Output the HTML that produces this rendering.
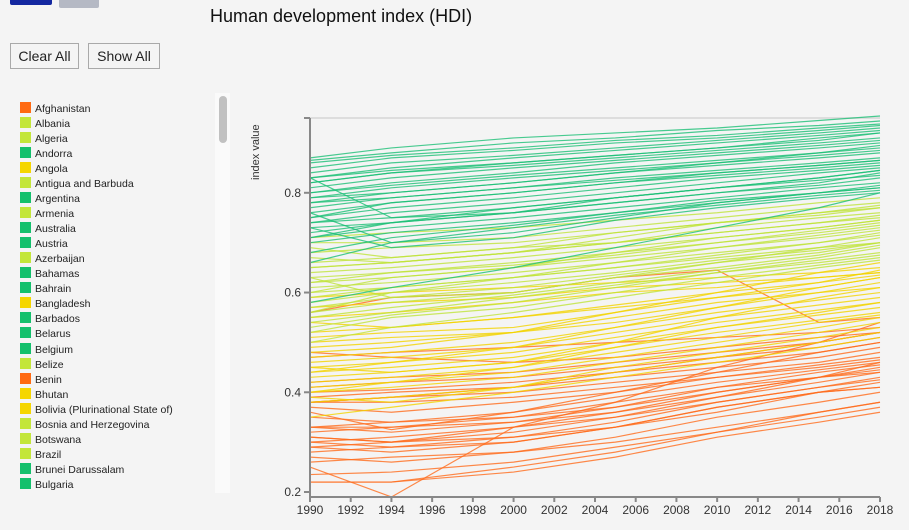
<!DOCTYPE html>
<html><head><meta charset="utf-8">
<style>
body{margin:0;width:909px;height:530px;background:#f4f4f4;font-family:"Liberation Sans",sans-serif;overflow:hidden;position:relative}
.btn{position:absolute;top:43px;height:24px;border:1px solid #a9a9a9;background:#f4f4f4;font-size:14px;line-height:24px;text-align:center;color:#222}
#legend{position:absolute;left:20px;top:102px}
.li{height:15.04px;font-size:10.5px;line-height:15px;color:#222;white-space:nowrap}
.sw{display:inline-block;width:11px;height:11px;vertical-align:-1px;margin-right:4px}
</style></head><body>
<div style="position:absolute;left:10px;top:0;width:42px;height:5px;background:#1428a0;border-radius:0 0 2px 2px"></div>
<div style="position:absolute;left:59px;top:0;width:40px;height:8px;background:#b5b9c4;border-radius:0 0 2px 2px"></div>
<div style="position:absolute;left:210px;top:6px;font-size:18px;color:#111">Human development index (HDI)</div>
<div class="btn" style="left:10px;width:67px">Clear All</div>
<div class="btn" style="left:88px;width:70px">Show All</div>
<div style="position:absolute;left:215px;top:93px;width:15px;height:400px;background:#fafafa"></div>
<div style="position:absolute;left:219px;top:96px;width:8px;height:47px;background:#c1c1c1;border-radius:4px"></div>
<div id="legend"></div>
<svg id="chart" width="909" height="530" style="position:absolute;left:0;top:0"></svg>
<script>
const years=[1990,1994,2000,2005,2010,2015,2018];
const xTicks=[1990,1992,1994,1996,1998,2000,2002,2004,2006,2008,2010,2012,2014,2016,2018];
const yTicks=[0.2,0.4,0.6,0.8];
const legendNames=["Afghanistan","Albania","Algeria","Andorra","Angola","Antigua and Barbuda","Argentina","Armenia","Australia","Austria","Azerbaijan","Bahamas","Bahrain","Bangladesh","Barbados","Belarus","Belgium","Belize","Benin","Bhutan","Bolivia (Plurinational State of)","Bosnia and Herzegovina","Botswana","Brazil","Brunei Darussalam","Bulgaria"];
const legendGroups=["low","high","high","vhigh","med","high","vhigh","high","vhigh","vhigh","high","vhigh","vhigh","med","vhigh","vhigh","vhigh","high","low","med","med","high","high","high","vhigh","vhigh"];
const vhighSeries=[
[0.87,0.89,0.91,0.92,0.93,0.945,0.954],[0.865,0.88,0.90,0.91,0.925,0.935,0.944],[0.86,0.875,0.89,0.905,0.915,0.93,0.938],
[0.85,0.87,0.885,0.90,0.91,0.925,0.935],[0.84,0.86,0.875,0.89,0.905,0.92,0.93],[0.83,0.85,0.87,0.885,0.90,0.915,0.925],
[0.83,0.845,0.86,0.875,0.89,0.905,0.92],[0.82,0.84,0.855,0.87,0.885,0.90,0.91],[0.81,0.83,0.85,0.865,0.88,0.895,0.905],
[0.80,0.82,0.84,0.86,0.875,0.89,0.90],[0.80,0.815,0.835,0.85,0.865,0.88,0.89],[0.79,0.81,0.83,0.845,0.86,0.875,0.885],
[0.78,0.80,0.82,0.84,0.855,0.87,0.88],[0.78,0.79,0.81,0.83,0.845,0.86,0.87],[0.77,0.79,0.81,0.825,0.84,0.855,0.865],
[0.76,0.78,0.80,0.82,0.835,0.85,0.86],[0.75,0.77,0.79,0.81,0.83,0.845,0.855],[0.74,0.76,0.78,0.80,0.82,0.84,0.85],
[0.74,0.75,0.77,0.79,0.81,0.83,0.845],[0.73,0.74,0.76,0.78,0.80,0.82,0.84],[0.72,0.74,0.76,0.78,0.80,0.815,0.83],
[0.71,0.73,0.75,0.77,0.79,0.81,0.82],[0.70,0.72,0.74,0.76,0.785,0.80,0.815],[0.83,0.75,0.76,0.79,0.81,0.83,0.845],
[0.76,0.70,0.72,0.75,0.78,0.80,0.81],[0.73,0.69,0.71,0.745,0.77,0.79,0.80],[0.68,0.71,0.735,0.76,0.78,0.80,0.81],
[0.66,0.70,0.73,0.755,0.775,0.795,0.805],[0.58,0.61,0.65,0.69,0.73,0.77,0.80],[0.82,0.84,0.86,0.875,0.89,0.91,0.92],
[0.79,0.80,0.82,0.84,0.86,0.88,0.895],[0.75,0.78,0.80,0.82,0.84,0.855,0.865],[0.71,0.74,0.77,0.79,0.81,0.825,0.835]];
const highSeries=[
[0.71,0.72,0.73,0.745,0.76,0.78,0.79],[0.70,0.70,0.71,0.73,0.75,0.77,0.78],[0.69,0.67,0.69,0.72,0.74,0.76,0.775],
[0.68,0.69,0.70,0.72,0.74,0.755,0.77],[0.67,0.66,0.68,0.70,0.73,0.75,0.76],[0.66,0.67,0.69,0.70,0.72,0.74,0.755],
[0.65,0.66,0.68,0.70,0.72,0.74,0.75],[0.64,0.65,0.67,0.69,0.71,0.73,0.745],[0.63,0.64,0.66,0.68,0.70,0.725,0.74],
[0.62,0.64,0.655,0.675,0.70,0.72,0.735],[0.62,0.63,0.65,0.67,0.69,0.71,0.725],[0.61,0.62,0.64,0.66,0.68,0.70,0.72],
[0.60,0.61,0.63,0.65,0.675,0.70,0.715],[0.59,0.61,0.63,0.65,0.67,0.69,0.71],[0.58,0.60,0.62,0.64,0.665,0.685,0.70],
[0.57,0.59,0.61,0.635,0.66,0.68,0.70],[0.56,0.58,0.60,0.63,0.65,0.675,0.695],[0.55,0.57,0.595,0.62,0.645,0.67,0.69],
[0.54,0.56,0.59,0.615,0.64,0.665,0.68],[0.53,0.555,0.58,0.61,0.64,0.66,0.675],[0.52,0.55,0.57,0.60,0.63,0.655,0.67],
[0.50,0.53,0.56,0.59,0.62,0.65,0.665],[0.65,0.66,0.68,0.71,0.74,0.76,0.77],[0.60,0.63,0.65,0.68,0.71,0.73,0.745],
[0.56,0.60,0.63,0.66,0.69,0.715,0.73],[0.63,0.59,0.60,0.63,0.66,0.69,0.70]];
const medSeries=[
[0.59,0.60,0.61,0.62,0.63,0.64,0.65],[0.57,0.58,0.59,0.61,0.62,0.63,0.64],[0.55,0.56,0.58,0.60,0.61,0.63,0.64],
[0.54,0.53,0.55,0.575,0.60,0.62,0.635],[0.52,0.53,0.55,0.57,0.59,0.61,0.63],[0.50,0.51,0.52,0.55,0.58,0.60,0.62],
[0.49,0.50,0.52,0.54,0.57,0.60,0.61],[0.47,0.48,0.50,0.53,0.56,0.585,0.60],[0.46,0.47,0.49,0.52,0.55,0.575,0.59],
[0.45,0.46,0.48,0.51,0.54,0.565,0.58],[0.44,0.45,0.47,0.50,0.53,0.555,0.57],[0.43,0.44,0.46,0.49,0.52,0.545,0.56],
[0.42,0.43,0.45,0.48,0.51,0.54,0.555],[0.41,0.42,0.44,0.47,0.50,0.53,0.55],[0.40,0.41,0.43,0.46,0.49,0.52,0.54],
[0.39,0.38,0.41,0.45,0.48,0.51,0.53],[0.38,0.39,0.41,0.44,0.47,0.50,0.52],[0.35,0.37,0.40,0.43,0.46,0.49,0.51],
[0.44,0.46,0.49,0.53,0.57,0.61,0.63],[0.51,0.52,0.53,0.56,0.59,0.62,0.645],[0.45,0.44,0.46,0.50,0.55,0.59,0.61],
[0.40,0.42,0.45,0.49,0.53,0.56,0.58],[0.48,0.49,0.52,0.56,0.60,0.64,0.66]];
const lowSeries=[
[0.56,0.59,0.60,0.63,0.645,0.54,0.55],[0.48,0.47,0.46,0.47,0.49,0.51,0.52],[0.42,0.43,0.44,0.46,0.48,0.50,0.52],
[0.41,0.42,0.43,0.45,0.47,0.49,0.51],[0.40,0.405,0.42,0.44,0.46,0.48,0.50],[0.39,0.40,0.41,0.43,0.45,0.47,0.49],
[0.38,0.39,0.40,0.42,0.44,0.46,0.48],[0.38,0.38,0.39,0.41,0.43,0.455,0.47],[0.37,0.36,0.38,0.40,0.43,0.45,0.465],
[0.35,0.34,0.36,0.39,0.42,0.445,0.46],[0.33,0.32,0.34,0.37,0.41,0.44,0.455],[0.33,0.33,0.35,0.38,0.41,0.43,0.45],
[0.32,0.33,0.34,0.36,0.39,0.42,0.44],[0.31,0.30,0.33,0.36,0.40,0.43,0.445],[0.30,0.31,0.33,0.35,0.38,0.41,0.43],
[0.30,0.29,0.31,0.34,0.38,0.41,0.425],[0.29,0.30,0.31,0.33,0.36,0.40,0.42],[0.28,0.29,0.30,0.33,0.37,0.40,0.41],
[0.27,0.26,0.28,0.31,0.35,0.38,0.40],[0.26,0.27,0.28,0.30,0.33,0.36,0.38],[0.25,0.19,0.33,0.38,0.45,0.50,0.54],
[0.235,0.24,0.26,0.29,0.32,0.35,0.37],[0.22,0.22,0.24,0.27,0.31,0.34,0.36],[0.22,0.22,0.25,0.28,0.32,0.36,0.38],
[0.36,0.325,0.36,0.40,0.44,0.48,0.50],[0.31,0.30,0.32,0.35,0.39,0.43,0.46],[0.33,0.34,0.35,0.37,0.40,0.43,0.44],
[0.47,0.48,0.49,0.50,0.51,0.52,0.53],[0.29,0.28,0.30,0.33,0.37,0.40,0.41],[0.38,0.39,0.41,0.44,0.47,0.50,0.52]];

const colors={vhigh:"#14c06c",high:"#c3e63a",med:"#f5d600",low:"#ff6a12"};
const lineColors={vhigh:"#1cbf76",high:"#bfe33a",med:"#f3d300",low:"#ff6c1c"};
const NS="http://www.w3.org/2000/svg";
const X0=310,X1=880,Y0=497,Ytop=118;
const xs=y=>X0+(y-1990)/(2018-1990)*(X1-X0);
const ys=v=>Y0-(v-0.19)/(0.95-0.19)*(Y0-Ytop);
const svg=document.getElementById('chart');
function mk(t,a){const e=document.createElementNS(NS,t);for(const k in a)e.setAttribute(k,a[k]);return e;}

const leg=document.getElementById('legend');
legendNames.forEach((n,i)=>{
  const d=document.createElement('div');d.className='li';
  
  
  d.innerHTML='<span class="sw" style="background:'+colors[legendGroups[i]]+'"></span>'+n;
  leg.appendChild(d);
});

const frame=mk('line',{x1:X0,y1:Ytop,x2:X1,y2:Ytop,stroke:'#ddd','stroke-width':2});


svg.appendChild(frame);

const g=mk('g',{fill:'none','stroke-width':1.2,'stroke-opacity':0.8});


svg.appendChild(g);
[["low",lowSeries],["med",medSeries],["high",highSeries],["vhigh",vhighSeries]].forEach(([grp,arr])=>{
  arr.forEach(s=>{
    const p=mk('polyline',{points:s.map((v,i)=>xs(years[i])+','+ys(v)).join(' '),stroke:lineColors[grp]});
    
    
    g.appendChild(p);
  });
});

const ax=mk('g',{stroke:'#888','stroke-width':2});


svg.appendChild(ax);
ax.appendChild(mk('line',{x1:X0,y1:Ytop,x2:X0,y2:Y0}));
ax.appendChild(mk('line',{x1:X0,y1:Y0,x2:X1,y2:Y0}));
ax.appendChild(mk('line',{x1:X0-6,y1:Ytop,x2:X0,y2:Ytop}));
xTicks.forEach(t=>{
  ax.appendChild(mk('line',{x1:xs(t),y1:Y0,x2:xs(t),y2:Y0+5}));
  const tx=mk('text',{x:xs(t),y:Y0+17,'text-anchor':'middle','font-size':12,fill:'#333',stroke:'none','font-family':'Liberation Sans, sans-serif'});
  tx.textContent=t;
  
  
  svg.appendChild(tx);
});
yTicks.forEach(t=>{
  ax.appendChild(mk('line',{x1:X0-6,y1:ys(t),x2:X0,y2:ys(t)}));
  const tx=mk('text',{x:X0-9,y:ys(t)+4,'text-anchor':'end','font-size':12,fill:'#333',stroke:'none','font-family':'Liberation Sans, sans-serif'});
  tx.textContent=t.toFixed(1);
  
  
  svg.appendChild(tx);
});
const yt=mk('text',{x:0,y:0,transform:'translate(259,180) rotate(-90)','font-size':11,fill:'#333','font-family':'Liberation Sans, sans-serif'});
yt.textContent='index value';


svg.appendChild(yt);
</script>
</body></html>
